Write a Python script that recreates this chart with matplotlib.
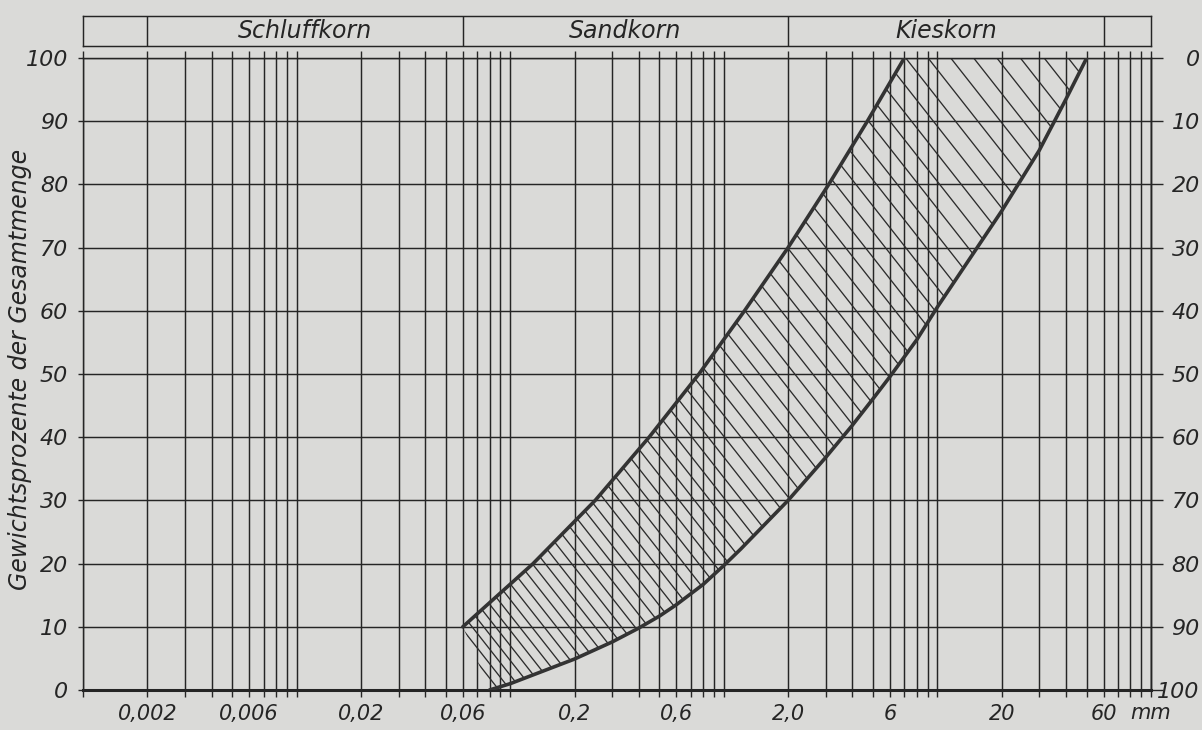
import matplotlib
matplotlib.use('Agg')
from matplotlib import pyplot as plt
from matplotlib.patches import Polygon
from matplotlib.collections import LineCollection
from matplotlib.ticker import FixedLocator, FixedFormatter, NullFormatter

# Sieblinien-Bereich: Korngroesse (mm) / Gewichtsprozente
upper_mm = [0.06, 0.128, 0.25, 0.447, 0.765, 1.25, 2.0, 3.1, 4.7, 7.0]
upper_pct = [10, 20, 30, 40, 50, 60, 70, 80, 90, 100]
lower_mm = [0.08, 0.1, 0.2, 0.3, 0.4, 0.5, 0.6, 0.8, 1.0, 1.2, 2.0, 3.0, 4.0,
            5.0, 6.0, 8.0, 10, 20, 30, 40, 50]
lower_pct = [0, 1.0, 4.9, 7.6, 9.8, 11.7, 13.5, 16.7, 19.7, 22.3, 30, 36.8, 41.9,
             46.1, 49.6, 55.4, 60.6, 75.8, 85.4, 93.5, 100]

x_ticks = [0.002, 0.006, 0.02, 0.06, 0.2, 0.6, 2, 6, 20, 60]
x_labels = ['0,002', '0,006', '0,02', '0,06', '0,2', '0,6', '2,0', '6', '20', '60']
y_ticks = [0, 10, 20, 30, 40, 50, 60, 70, 80, 90, 100]
fractions = ['Schluffkorn', 'Sandkorn', 'Kieskorn']
fraction_edges = [0.002, 0.06, 2, 60]

paper = '#dadad8'
ink = '#252525'

plt.rcParams['font.family'] = 'DejaVu Sans'
plt.rcParams['font.style'] = 'italic'

fig = plt.figure(figsize=(12.02, 7.30), dpi=100, facecolor=paper)
ax = fig.add_axes([83 / 1202, 40 / 730, 1068 / 1202, 632 / 730])
ax.set_facecolor(paper)
ax.set_xscale('log')
ax.set_xlim(0.001, 100)
ax.set_ylim(0, 100)
ax.set_axisbelow(True)

# log grid 1..9 per decade
grid_x = [k * 10.0 ** e for e in range(-3, 2) for k in range(1, 10)] + [100.0]
minor_x = [v for v in grid_x if min(abs(v - t) / t for t in x_ticks) > 1e-6]
ax.xaxis.set_major_locator(FixedLocator(x_ticks))
ax.xaxis.set_major_formatter(FixedFormatter(x_labels))
ax.xaxis.set_minor_locator(FixedLocator(minor_x))
ax.xaxis.set_minor_formatter(NullFormatter())
ax.tick_params(axis='x', which='both', bottom=True, top=True, length=5, width=1.0,
               color=ink, direction='out', pad=5, labelsize=15, labelcolor=ink)
ax.set_yticks(y_ticks)
ax.set_yticklabels([str(v) for v in y_ticks])
ax.tick_params(axis='y', left=True, right=False, length=3.6, width=1.0, color=ink,
               pad=7, labelsize=16, labelcolor=ink)
ax.grid(axis='x', which='both', color=ink, lw=1.05)
ax.grid(axis='y', which='major', color=ink, lw=1.05)
for s in ax.spines.values():
    s.set_color(ink)
    s.set_linewidth(1.05)
ax.spines['bottom'].set_linewidth(2.2)

# right scale (Rueckstand)
sec = ax.secondary_yaxis('right', functions=(lambda y: 100 - y, lambda y: 100 - y))
sec.set_yticks(y_ticks)
sec.set_yticklabels([str(v) for v in y_ticks])
sec.tick_params(length=8.6, width=1.0, color=ink, pad=26.5, labelsize=16, labelcolor=ink)
sec.spines['right'].set_color(ink)
sec.spines['right'].set_linewidth(1.05)
plt.setp(sec.get_yticklabels(), ha='right')

# band + hatching
band = Polygon(list(zip(upper_mm, upper_pct)) + list(zip(lower_mm, lower_pct))[::-1],
               closed=True, facecolor='none', edgecolor='none')
ax.add_patch(band)

W, H = 1068.0, 632.0
tan_a = 1.27
f = 500.0
segs = []
while f < 1920:
    segs.append([(f / (tan_a * W), 0.0), ((f - H) / (tan_a * W), 1.0)])
    f += 16.9 + 0.0122 * (f - 732)
hatch = LineCollection(segs, colors='#2c2c2c', linewidths=0.95, transform=ax.transAxes)
ax.add_collection(hatch)
hatch.set_clip_path(band)

ax.plot(upper_mm, upper_pct, color='#333333', lw=2.6, solid_capstyle='round',
        solid_joinstyle='round', zorder=4)
ax.plot(lower_mm, lower_pct, color='#333333', lw=2.6, solid_capstyle='round',
        solid_joinstyle='round', zorder=4)

ax.annotate('mm', xy=(60, 0), xycoords='data', xytext=(19, -21),
            textcoords='offset points', ha='left', va='baseline',
            fontsize=15, color=ink, annotation_clip=False)

# header with soil fractions
hdr = fig.add_axes([83 / 1202, (730 - 46) / 730, 1068 / 1202, 30 / 730])
hdr.set_facecolor(paper)
hdr.set_xscale('log')
hdr.set_xlim(0.001, 100)
hdr.set_ylim(0, 1)
hdr.set_xticks([])
hdr.set_yticks([])
hdr.minorticks_off()
for s in hdr.spines.values():
    s.set_color(ink)
    s.set_linewidth(1.05)
for e in fraction_edges:
    hdr.axvline(e, color=ink, lw=1.05)
for i, name in enumerate(fractions):
    xc = (fraction_edges[i] * fraction_edges[i + 1]) ** 0.5
    hdr.text(xc, 0.5, name, ha='center', va='center', fontsize=17, color=ink)

fig.text(20 / 1202, 1 - 369 / 730, 'Gewichtsprozente der Gesamtmenge', rotation=90,
         ha='center', va='center', fontsize=17, color=ink)

fig.savefig('out.png', dpi=100, facecolor=paper)
